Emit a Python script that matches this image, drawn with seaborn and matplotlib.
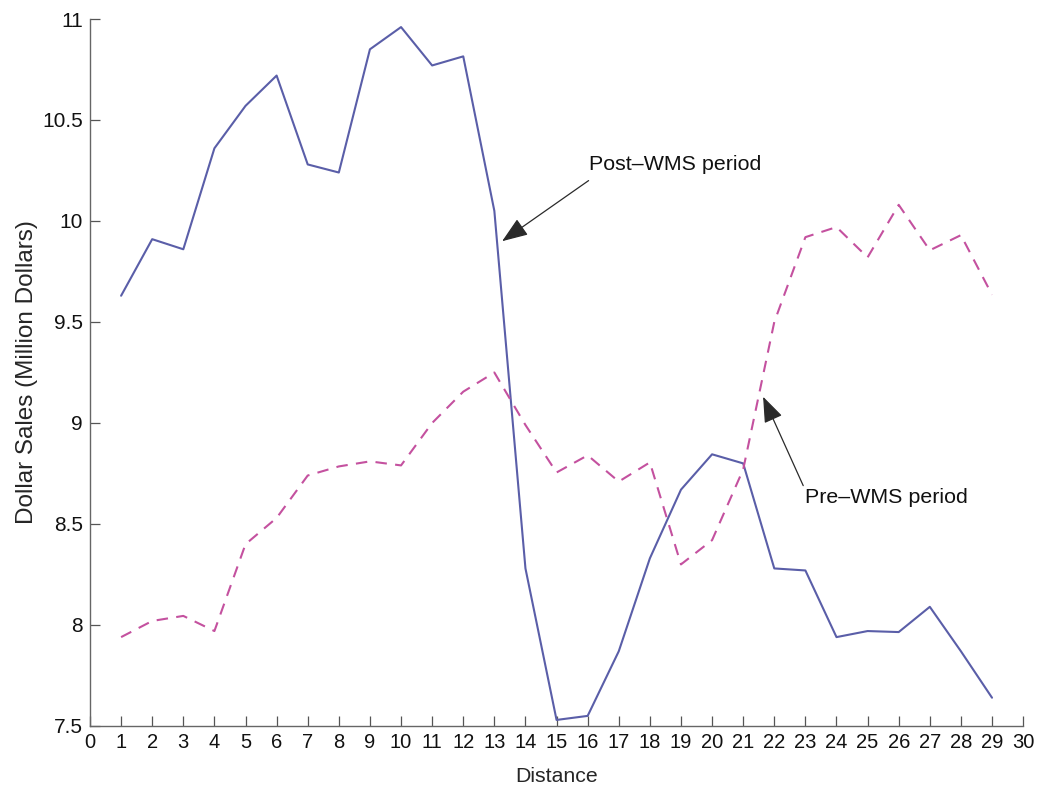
import matplotlib
matplotlib.use("Agg")
import matplotlib.pyplot as plt
import pandas as pd
import seaborn as sns

distance = list(range(1, 30))
post_wms = [9.63, 9.91, 9.86, 10.36, 10.57, 10.72, 10.28, 10.24, 10.85, 10.96,
            10.77, 10.815, 10.05, 8.28, 7.53, 7.55, 7.87, 8.33, 8.67, 8.845,
            8.80, 8.28, 8.27, 7.94, 7.97, 7.965, 8.09, 7.87, 7.64]
pre_wms = [7.94, 8.02, 8.045, 7.97, 8.40, 8.53, 8.74, 8.785, 8.81, 8.79,
           9.00, 9.155, 9.25, 8.99, 8.755, 8.84, 8.71, 8.805, 8.30, 8.42,
           8.77, 9.50, 9.92, 9.97, 9.82, 10.08, 9.855, 9.93, 9.635]
x_ticks = list(range(0, 31))
y_ticks = [7.5, 8, 8.5, 9, 9.5, 10, 10.5, 11]
y_labels = ["7.5", "8", "8.5", "9", "9.5", "10", "10.5", "11"]

df = pd.DataFrame({"Distance": distance, "post": post_wms, "pre": pre_wms})

sns.set_style("ticks")
plt.rcParams["font.family"] = ["Liberation Sans", "DejaVu Sans"]

fig = plt.figure(figsize=(10.44, 7.95), dpi=100)
ax = fig.add_axes([0.0862, 0.0868, 0.8938, 0.8893])

sns.lineplot(data=df, x="Distance", y="post", ax=ax, color="#5a5ea8", lw=1.5)
sns.lineplot(data=df, x="Distance", y="pre", ax=ax, color="#c4519f", lw=1.5,
             linestyle=(0, (5.5, 4)))

ax.set_xlim(0, 30)
ax.set_ylim(7.5, 11)
ax.set_xticks(x_ticks)
ax.set_xticklabels([str(t) for t in x_ticks], fontsize=14.5)
ax.set_yticks(y_ticks)
ax.set_yticklabels(y_labels, fontsize=15)
ax.tick_params(direction="in", length=7, width=0.9, color="#555555", labelcolor="#111111")
ax.tick_params(axis="x", pad=5)
ax.tick_params(axis="y", pad=5)

for side in ["top", "right"]:
    ax.spines[side].set_visible(False)
for side in ["left", "bottom"]:
    ax.spines[side].set_color("#666666")
    ax.spines[side].set_linewidth(1.0)

ax.set_xlabel("Distance", fontsize=15.3, labelpad=11)
ax.set_ylabel("Dollar Sales (Million Dollars)", fontsize=17.5, labelpad=3)

arrow = dict(arrowstyle="-|>,head_length=1.6,head_width=0.6", color="#2a2a2a",
             lw=0.9, shrinkA=0, shrinkB=0, mutation_scale=10)
ax.annotate("", xy=(13.25, 9.90), xytext=(16.03, 10.20), arrowprops=arrow)
ax.annotate("", xy=(21.64, 9.13), xytext=(22.93, 8.69), arrowprops=arrow)
ax.text(16.05, 10.28, "Post\u2013WMS period", fontsize=15.4, va="center", ha="left",
        color="#111111")
ax.text(23.0, 8.63, "Pre\u2013WMS period", fontsize=15.4, va="center", ha="left",
        color="#111111")

fig.savefig("out.png", dpi=100)
